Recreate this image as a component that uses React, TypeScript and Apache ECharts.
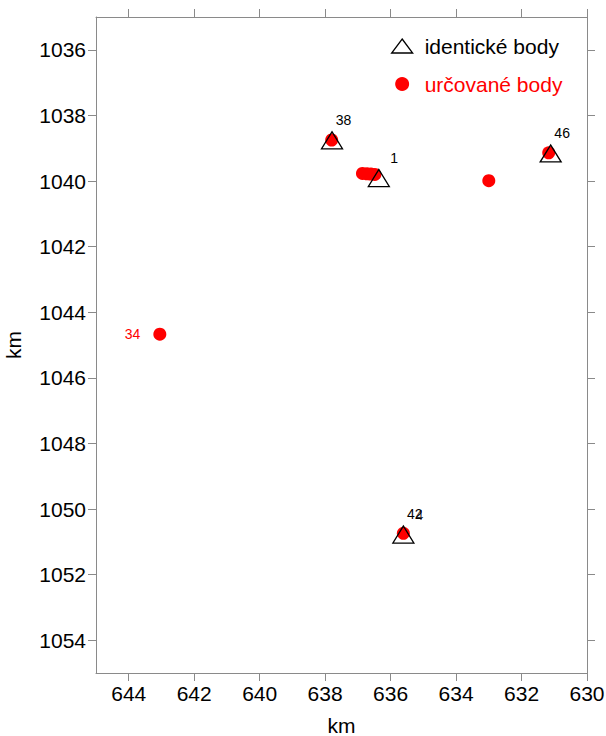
import React, { useEffect, useRef } from "react";
import * as echarts from "echarts";

// ---- data ----
const xTicks = [644, 642, 640, 638, 636, 634, 632, 630];
const yTicks = [1036, 1038, 1040, 1042, 1044, 1046, 1048, 1050, 1052, 1054];

// identické body (triangles)
const identNames = ["38", "1", "46", "42"];
const identX = [637.79, 636.36, 631.11, 635.61];
const identY = [1038.76, 1039.91, 1039.16, 1050.78];

// overlapping extra label near 42
const extraNames = ["4"];
const extraX = [635.61];
const extraY = [1050.78];

// určované body (red dots)
const detNames = ["", "", "", "", "", "", "", "34", ""];
const detX = [637.8, 636.86, 636.72, 636.6, 636.48, 633.0, 631.17, 643.05, 635.61];
const detY = [1038.75, 1039.77, 1039.78, 1039.79, 1039.8, 1039.99, 1039.14, 1044.67, 1050.74];

const FONT = "'Liberation Sans', Arial, Helvetica, sans-serif";
const AXIS_GRAY = "#8a8a8a";

export default function App() {
  const ref = useRef<HTMLDivElement>(null);

  useEffect(() => {
    if (!ref.current) return;
    const chart = echarts.init(ref.current, null, { renderer: "svg" });

    const baseX = {
      type: "value" as const,
      min: 630,
      max: 645,
      inverse: true,
      splitLine: { show: false },
      axisLine: { show: true, onZero: false, lineStyle: { color: AXIS_GRAY, width: 1 } },
      axisTick: { show: true, inside: false, length: 8, customValues: xTicks, lineStyle: { color: AXIS_GRAY, width: 1 } },
    };
    const baseY = {
      type: "value" as const,
      min: 1035,
      max: 1055,
      inverse: true,
      splitLine: { show: false },
      axisLine: { show: true, onZero: false, lineStyle: { color: AXIS_GRAY, width: 1 } },
      axisTick: { show: true, inside: false, length: 8, customValues: yTicks, lineStyle: { color: AXIS_GRAY, width: 1 } },
    };

    const labelPos = [30.5, -11];

    chart.setOption({
      animation: false,
      textStyle: { fontFamily: FONT },
      grid: { left: 96, right: 19, top: 17, bottom: 63, outerBoundsMode: "none", containLabel: false },
      legend: {
        orient: "vertical",
        left: 386,
        top: 30,
        itemWidth: 21,
        itemHeight: 14,
        itemGap: 16,
        selectedMode: false,
        textStyle: { fontSize: 21, lineHeight: 22, color: "#000", fontFamily: FONT, padding: [0, 0, 0, 7] },
        data: [
          {
            name: "identické body",
            icon: "triangle",
            itemStyle: { color: "transparent", borderColor: "#000", borderWidth: 1.3 },
          },
          {
            name: "určované body",
            icon: "circle",
            itemStyle: { color: "#ff0000", borderWidth: 0 },
            textStyle: { color: "#ff0000" },
          },
        ],
      },
      xAxis: [
        {
          ...baseX,
          position: "bottom",
          axisLabel: {
            customValues: xTicks,
            margin: 10,
            fontSize: 21,
            color: "#000",
            fontFamily: FONT,
            formatter: (v: number) => String(v),
          },
          name: "km",
          nameLocation: "middle",
          nameGap: 42,
          nameTextStyle: { fontSize: 21, lineHeight: 20, color: "#000", fontFamily: FONT },
        },
        {
          ...baseX,
          position: "top",
          axisLabel: { show: false },
        },
      ],
      yAxis: [
        {
          ...baseY,
          position: "left",
          axisLabel: {
            customValues: yTicks,
            margin: 10,
            fontSize: 21,
            color: "#000",
            fontFamily: FONT,
            formatter: (v: number) => String(v),
          },
          name: "km",
          nameLocation: "middle",
          nameGap: 72,
          nameTextStyle: { fontSize: 21, color: "#000", fontFamily: FONT },
        },
        {
          ...baseY,
          position: "right",
          axisLabel: { show: false },
        },
      ],
      series: [
        {
          name: "určované body",
          type: "scatter",
          xAxisIndex: 0,
          yAxisIndex: 0,
          symbol: "circle",
          symbolSize: 13,
          itemStyle: { color: "#ff0000", opacity: 1 },
          label: {
            show: false,
            position: "left",
            distance: 13,
            formatter: "{b}",
            color: "#ff0000",
            fontSize: 14,
            fontFamily: FONT,
          },
          data: detX.map((x, i) => ({
            name: detNames[i],
            value: [x, detY[i]],
            label: { show: detNames[i] !== "" },
          })),
        },
        {
          name: "identické body",
          type: "scatter",
          xAxisIndex: 0,
          yAxisIndex: 0,
          symbol: "triangle",
          symbolSize: [21, 17],
          itemStyle: { color: "transparent", borderColor: "#000", borderWidth: 1.3, opacity: 1 },
          label: {
            show: true,
            position: labelPos,
            align: "right",
            verticalAlign: "middle",
            formatter: "{b}",
            color: "#000",
            fontSize: 14,
            fontFamily: FONT,
          },
          data: identX.map((x, i) => ({ name: identNames[i], value: [x, identY[i]] })),
        },
        {
          name: "extra",
          type: "scatter",
          xAxisIndex: 0,
          yAxisIndex: 0,
          symbol: "rect",
          symbolSize: [21, 17],
          itemStyle: { color: "transparent", borderWidth: 0 },
          label: {
            show: true,
            position: labelPos,
            align: "right",
            verticalAlign: "middle",
            formatter: "{b}",
            color: "#000",
            fontSize: 14,
            fontFamily: FONT,
          },
          data: extraX.map((x, i) => ({ name: extraNames[i], value: [x, extraY[i]] })),
        },
      ],
    });

    return () => chart.dispose();
  }, []);

  return (
    <div
      ref={ref}
      style={{ position: "fixed", left: 0, top: 0, width: 606, height: 736, background: "#fff" }}
    />
  );
}
